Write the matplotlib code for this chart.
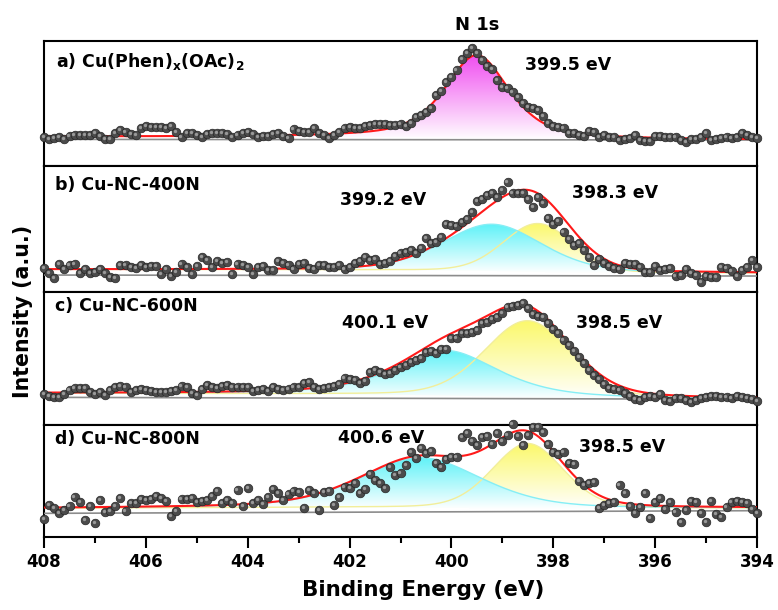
import numpy as np
import matplotlib
matplotlib.use('Agg')
import matplotlib.pyplot as plt
import matplotlib.transforms as mtransforms
from matplotlib.colors import LinearSegmentedColormap
from matplotlib.patches import Polygon
from matplotlib.ticker import MultipleLocator

plt.rcParams['font.family'] = ['DejaVu Sans']
plt.rcParams['font.weight'] = 'bold'
plt.rcParams['mathtext.default'] = 'bf'

# -----------------------------
# N 1s spectra, 0.1 eV scan step
# -----------------------------
binding_energy = np.round(np.arange(408.0, 393.95, -0.1), 1)

counts_a = [85, 79, 82, 87, 79, 89, 91, 92, 93, 92,
            97, 89, 81, 79, 99, 107, 102, 95, 93, 112,
            119, 117, 115, 115, 112, 119, 102, 85, 97, 99,
            92, 87, 95, 97, 97, 97, 94, 87, 92, 97,
            102, 95, 87, 89, 89, 95, 99, 89, 83, 111,
            105, 102, 102, 112, 99, 92, 82, 92, 102, 112,
            115, 112, 114, 119, 122, 125, 125, 124, 122, 122,
            125, 119, 127, 147, 152, 162, 172, 212, 225, 252,
            267, 287, 319, 339, 352, 339, 317, 299, 289, 257,
            235, 232, 222, 207, 189, 177, 172, 167, 149, 127,
            119, 117, 112, 99, 97, 92, 89, 105, 102, 87,
            92, 87, 85, 77, 79, 82, 92, 77, 75, 75,
            89, 89, 87, 87, 85, 77, 72, 79, 79, 87,
            97, 77, 79, 82, 85, 82, 87, 97, 92, 87,
            82]

counts_b = [70, 57, 40, 83, 67, 80, 82, 57, 67, 57,
            60, 67, 57, 45, 42, 80, 80, 75, 70, 80,
            75, 77, 77, 52, 67, 47, 60, 83, 75, 53,
            77, 103, 95, 75, 93, 85, 90, 52, 83, 80,
            73, 52, 73, 77, 65, 65, 92, 87, 80, 67,
            83, 85, 70, 67, 80, 80, 75, 73, 80, 68,
            75, 85, 93, 105, 95, 97, 83, 85, 93, 107,
            117, 120, 125, 115, 130, 160, 145, 150, 163, 203,
            200, 197, 210, 217, 240, 273, 277, 290, 297, 285,
            305, 330, 297, 297, 295, 277, 253, 285, 265, 220,
            203, 213, 180, 157, 140, 147, 125, 105, 80, 97,
            87, 77, 70, 67, 85, 83, 83, 75, 60, 60,
            77, 65, 67, 70, 47, 50, 67, 55, 50, 30,
            47, 45, 45, 73, 70, 63, 47, 65, 75, 95,
            73]

counts_c = [93, 87, 85, 85, 93, 105, 110, 112, 110, 100,
            93, 100, 90, 105, 115, 117, 115, 100, 105, 108,
            105, 103, 100, 100, 100, 103, 105, 118, 115, 95,
            90, 107, 120, 115, 110, 117, 120, 113, 115, 115,
            115, 103, 105, 107, 103, 113, 107, 105, 107, 113,
            115, 125, 130, 113, 107, 110, 115, 117, 122, 140,
            137, 135, 125, 133, 160, 165, 160, 153, 155, 165,
            173, 180, 190, 195, 200, 220, 223, 215, 227, 227,
            260, 260, 275, 277, 280, 285, 307, 310, 317, 323,
            335, 355, 357, 360, 367, 350, 333, 327, 325, 305,
            287, 277, 255, 240, 223, 205, 185, 165, 150, 137,
            123, 112, 108, 105, 95, 87, 77, 75, 83, 87,
            85, 93, 75, 72, 80, 80, 75, 70, 75, 80,
            83, 87, 87, 85, 83, 80, 87, 83, 80, 77,
            73]

counts_d = [52, 95, 85, 72, 80, 92, 118, 105, 50, 92,
            42, 110, 75, 78, 92, 115, 78, 102, 102, 112,
            110, 112, 122, 115, 108, 62, 78, 112, 112, 115,
            105, 108, 110, 122, 138, 100, 110, 102, 140, 92,
            145, 102, 110, 98, 118, 142, 132, 110, 128, 138,
            135, 85, 140, 132, 80, 135, 138, 95, 118, 148,
            145, 160, 132, 142, 188, 170, 162, 145, 208, 185,
            192, 215, 255, 235, 265, 252, 258, 222, 210, 232,
            238, 240, 300, 312, 288, 275, 298, 302, 278, 312,
            288, 305, 338, 302, 275, 305, 328, 328, 315, 278,
            255, 248, 255, 222, 218, 168, 155, 162, 165, 85,
            95, 100, 105, 155, 130, 92, 72, 88, 130, 55,
            105, 115, 82, 105, 75, 45, 80, 108, 105, 72,
            45, 108, 68, 60, 88, 105, 108, 105, 100, 82,
            70]

sample_names = [r'a) Cu(Phen)$_{x}$(OAc)$_{2}$', 'b) Cu-NC-400N',
                'c) Cu-NC-600N', 'd) Cu-NC-800N']

# fitted components per sample: centre (eV), height, FWHM (eV), Lorentzian fraction
centers_a, heights_a, fwhm_a, lfrac_a = [399.5], [250], [1.5], [0.6]
centers_b, heights_b, fwhm_b, lfrac_b = [399.2, 398.3], [140, 145], [2.3, 1.6], [0.3, 0.1]
centers_c, heights_c, fwhm_c, lfrac_c = [400.1, 398.5], [135, 230], [2.4, 2.0], [0.6, 0.2]
centers_d, heights_d, fwhm_d, lfrac_d = [400.6, 398.5], [150, 195], [2.8, 1.65], [0.4, 0.2]

# linear baseline ends (408 eV, 394 eV), offset and Shirley step of the background
baseline_a, offset_a, step_a = [79, 77], 0, 8
baseline_b, offset_b, step_b = [50, 47], 9, 8
baseline_c, offset_c, step_c = [83, 77], 0, 12
baseline_d, offset_d, step_d = [70, 78], 7, 8

# -----------------------------
# layout and styles
# -----------------------------
panel_rects = [[0.0566, 0.7284, 0.9165, 0.2049],
               [0.0566, 0.5218, 0.9165, 0.2066],
               [0.0566, 0.3033, 0.9165, 0.2185],
               [0.0566, 0.1202, 0.9165, 0.1831]]
panel_ymax = [375, 378, 400, 335]
name_pos = [(407.76, 312), (407.78, 320), (407.78, 357), (407.78, 293)]
peak_text_pos = [[(398.55, 302)],
                 [(402.18, 275), (397.63, 295)],
                 [(402.15, 305), (397.55, 305)],
                 [(402.22, 295), (397.50, 270)]]
fill_colors = [['#f04ef0'], ['#5ff2f8', '#fbf86a'], ['#5ff2f8', '#fbf86a'], ['#5ff2f8', '#fbf86a']]
edge_colors = [['none'], ['#86eef5', '#f2ee9a'], ['#86eef5', '#f2ee9a'], ['#86eef5', '#f2ee9a']]


def pseudo_voigt(x, center, height, fwhm, eta):
    u = (x - center) / fwhm
    return height * (eta / (1 + 4 * u ** 2) + (1 - eta) * np.exp(-4 * np.log(2) * u ** 2))


def gradient_fill(ax, x, lower, upper, color):
    """Fill between lower and upper with a white-to-colour vertical gradient."""
    verts = np.column_stack([np.r_[x, x[::-1]], np.r_[upper, lower[::-1]]])
    poly = Polygon(verts, closed=True, facecolor='none', edgecolor='none')
    ax.add_patch(poly)
    cmap = LinearSegmentedColormap.from_list('grad', ['white', color])
    grad = np.linspace(0, 1, 256).reshape(-1, 1)
    im = ax.imshow(grad, cmap=cmap, origin='lower', aspect='auto', interpolation='bilinear',
                   extent=[x.min(), x.max(), lower.min(), upper.max()], zorder=1)
    im.set_clip_path(poly)


fig = plt.figure(figsize=(7.78, 6.10), dpi=100)

all_counts = [counts_a, counts_b, counts_c, counts_d]
all_peaks = [(centers_a, heights_a, fwhm_a, lfrac_a),
             (centers_b, heights_b, fwhm_b, lfrac_b),
             (centers_c, heights_c, fwhm_c, lfrac_c),
             (centers_d, heights_d, fwhm_d, lfrac_d)]
all_bg = [(baseline_a, offset_a, step_a), (baseline_b, offset_b, step_b),
          (baseline_c, offset_c, step_c), (baseline_d, offset_d, step_d)]

x_fit = np.linspace(408, 394, 1401)

for i in range(4):
    ax = fig.add_axes(panel_rects[i])
    counts = np.array(all_counts[i], dtype=float)
    centers, heights, fwhms, lfracs = all_peaks[i]
    base_ends, offset, step = all_bg[i]

    comps = [pseudo_voigt(x_fit, c, h, w, e) for c, h, w, e in zip(centers, heights, fwhms, lfracs)]
    total = np.sum(comps, axis=0)
    baseline = np.interp(x_fit, [394, 408], [base_ends[1], base_ends[0]])
    cum = np.cumsum(total[::-1])[::-1]
    background = baseline + offset + step * cum / cum[0]

    # components: later ones first so the first component sits on top
    for j in reversed(range(len(comps))):
        gradient_fill(ax, x_fit, background, background + comps[j], fill_colors[i][j])
        if edge_colors[i][j] != 'none':
            ax.plot(x_fit, background + comps[j], color=edge_colors[i][j], lw=1.0, zorder=2)

    ax.plot([408, 394], base_ends, color='#8c8c8c', lw=1.2, zorder=3)
    ax.plot(x_fit, background + total, color='#ff1a1a', lw=1.5, zorder=4)

    # shaded ball markers
    ax.plot(binding_energy, counts, 'o', ms=6.2, mfc='#4b4b4b', mec='#262626', mew=0.5,
            zorder=5, clip_on=False)
    shine = mtransforms.offset_copy(ax.transData, fig=fig, x=-0.8, y=0.8, units='points')
    ax.plot(binding_energy, counts, 'o', ms=2.4, mfc='#a8a8a8', mec='none', alpha=0.85,
            transform=shine, zorder=6, clip_on=False)

    ax.text(*name_pos[i], sample_names[i], fontsize=12.5, fontweight='bold', ha='left', va='center')
    for (tx, ty), c in zip(peak_text_pos[i], centers):
        ax.text(tx, ty, f'{c:.1f} eV', fontsize=12.5, fontweight='bold', ha='left', va='center')

    ax.set_xlim(408, 394)
    ax.set_ylim(0, panel_ymax[i])
    ax.set_yticks([])
    for sp in ax.spines.values():
        sp.set_linewidth(1.5)

    if i < 3:
        ax.set_xticks([])
    else:
        ax.xaxis.set_major_locator(MultipleLocator(2))
        ax.xaxis.set_minor_locator(MultipleLocator(1))
        ax.tick_params(axis='x', which='major', direction='out', length=8, width=1.5,
                       labelsize=12, pad=4)
        ax.tick_params(axis='x', which='minor', direction='out', length=4.5, width=1.5)
        for lbl in ax.get_xticklabels():
            lbl.set_fontweight('bold')

fig.text(477 / 778, 1 - 25 / 610, 'N 1s', fontsize=13, fontweight='bold', ha='center', va='center')
fig.text(423 / 778, 1 - 590 / 610, 'Binding Energy (eV)', fontsize=15.5, fontweight='bold',
         ha='center', va='center')
fig.text(23 / 778, 1 - 311 / 610, 'Intensity (a.u.)', fontsize=14.8, fontweight='bold',
         ha='center', va='center', rotation=90)

fig.savefig('out.png', dpi=100)
